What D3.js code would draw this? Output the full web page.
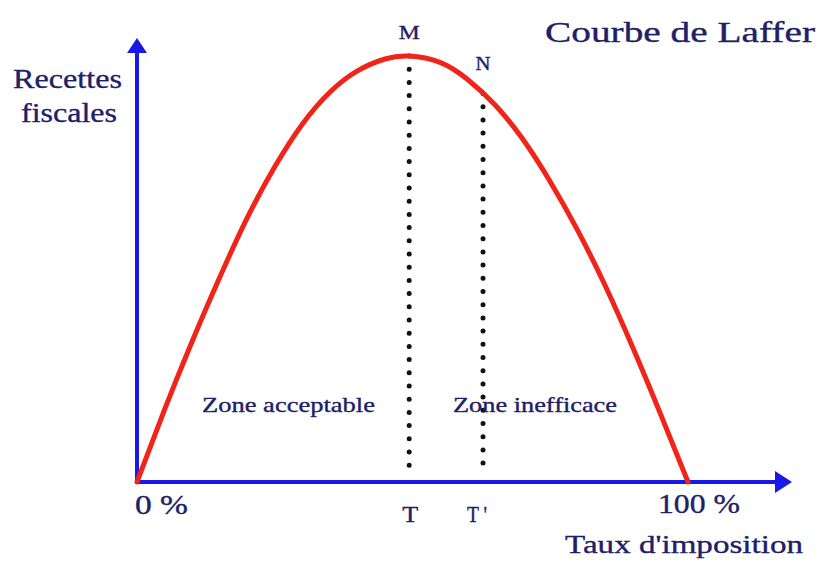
<!DOCTYPE html>
<html><head><meta charset="utf-8">
<script src="https://cdn.jsdelivr.net/npm/d3@7"></script>
<style>html,body{margin:0;padding:0;background:#fff;}svg{display:block;}
text{font-family:"Liberation Serif","Times New Roman",Times,serif;}</style>
</head><body><svg id="c" width="820" height="563"></svg>
<script>
// Tax rate (%) and fiscal revenue (% of max)
const taxRate = [0,5,10,15,20,25,30,35,40,45,49.4,55,60,65,70,75,80,85,90,95,100];
const revenue = [0,17,33,48,62,74,84,91.5,96.5,99.3,100,98.5,94.5,88.5,80.5,70.5,59,46,31.5,16,0];
// Marked points: M (optimum) and N (inefficient zone)
const markNames = ["M","N"];
const markRates = [49.4,62.8];
const markRevenue = [100,91.2];
const markTicks = ["T","T '"];
const endTicks = ["0 %","100 %"];
const zoneLabels = ["Zone acceptable","Zone inefficace"];
const title = "Courbe de Laffer";
const yTitle = ["Recettes","fiscales"];
const xTitle = "Taux d'imposition";

const svg = d3.select("#c");
const x = d3.scaleLinear().domain([0,100]).range([137,688]);
const y = d3.scaleLinear().domain([0,100]).range([482,56]);
const blue = "#1818e8", red = "#f02418", ink = "#202066";

// axes
const x0 = x(0), y0 = y(0);
svg.append("line").attr("x1",x0).attr("y1",y0+2).attr("x2",x0).attr("y2",50)
  .attr("stroke",blue).attr("stroke-width",4);
svg.append("path").attr("d",`M${x0},38 L${x0-10},53 L${x0+10},53 Z`).attr("fill",blue);
svg.append("line").attr("x1",x0-2).attr("y1",y0).attr("x2",778).attr("y2",y0)
  .attr("stroke",blue).attr("stroke-width",4);
svg.append("path").attr("d",`M792,${y0} L775,${y0-11} L775,${y0+11} Z`).attr("fill",blue);

// dotted verticals
markRates.forEach((r,i)=>{
  svg.append("line").attr("x1",x(r)).attr("x2",x(r))
    .attr("y1",y(markRevenue[i])).attr("y2",y(2.6))
    .attr("stroke","#111").attr("stroke-width",5)
    .attr("stroke-linecap","round").attr("stroke-dasharray","0 13.2");
});

// curve
const pts = taxRate.map((t,i)=>[t,revenue[i]]);
const line = d3.line().x(d=>x(d[0])).y(d=>y(d[1])).curve(d3.curveNatural);
svg.append("path").attr("d",line(pts)).attr("fill","none")
  .attr("stroke",red).attr("stroke-width",5).attr("stroke-linecap","round");

function txt(s,xx,yy,size,len,anchor){
  const t = svg.append("text").attr("x",xx).attr("y",yy).text(s)
    .attr("font-size",size).attr("fill",ink)
    .attr("stroke",ink).attr("stroke-width",0.35)
    .attr("text-anchor",anchor||"start");
  if(len) t.attr("textLength",len).attr("lengthAdjust","spacingAndGlyphs");
  return t;
}
txt(title,545,42,29,270);
txt(yTitle[0],13,88,28,109);
txt(yTitle[1],21,122,28,96);
txt(xTitle,565,553,26,238);
txt(markNames[0],x(markRates[0]),39,19,21,"middle");
txt(markNames[1],x(markRates[1]),70,19,15,"middle");
txt(endTicks[0],x(0)-2,514,28,53);
txt(endTicks[1],x(100)-30,513,28,82);
txt(markTicks[0],x(markRates[0])+1,522,24,16,"middle");
txt(markTicks[1],x(markRates[1])-6,522,24,20,"middle");
txt(zoneLabels[0],202,412,21,173);
txt(zoneLabels[1],453,412,21,164);
</script></body></html>
